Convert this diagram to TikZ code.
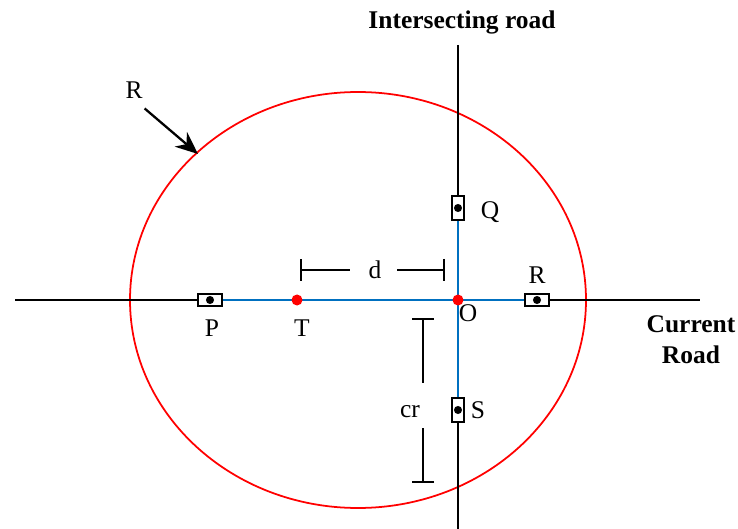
\documentclass[tikz,border=0pt]{standalone}
\usepackage{fontspec}
\setmainfont{Liberation Serif}
\usepackage{xcolor}
\usetikzlibrary{arrows.meta,positioning}
\definecolor{ROAD}{HTML}{000000}
\definecolor{LINK}{HTML}{0070C0}
\definecolor{RANGE}{HTML}{FF0000}

\begin{document}
\begin{tikzpicture}[
    x=0.2mm, y=-0.2mm,
    font=\fontsize{14.5}{17}\selectfont,
    road/.style={draw=ROAD, line width=1.1pt},
    link/.style={draw=LINK, line width=1.1pt},
    rsuh/.style={draw=black, fill=white, line width=0.9pt, minimum width=4.9mm, minimum height=2.5mm, inner sep=0pt,
      path picture={\fill[black] (path picture bounding box.center) circle (2.3pt);}},
    rsuv/.style={rsuh, minimum width=2.5mm, minimum height=4.9mm},
    veh/.style={circle, fill=RANGE, minimum size=2.2mm, inner sep=0pt},
    lbl/.style={inner sep=1pt},
    head/.style={font=\fontsize{14.5}{17.5}\selectfont\bfseries, align=center},
    dim/.style={black, line width=1.1pt},
  ]
  \useasboundingbox (0,0) rectangle (738,529);

  % ===== communication range =====
  \draw[RANGE, line width=1pt] (358,300) ellipse [x radius=228, y radius=208];

  % ===== roads =====
  \coordinate (cw) at (15,300);
  \coordinate (ce) at (700,300);
  \coordinate (in) at (458,45);
  \coordinate (is) at (458,529);
  \draw[road] (cw) -- (ce);
  \draw[road] (in) -- (is);

  % units and vehicles
  \node[rsuh] (P) at (210,300) {};
  \node[rsuh] (R) at (537,300) {};
  \node[rsuv] (Q) at (458,208) {};
  \node[rsuv] (S) at (458,410) {};
  \draw[link] (P) -- (R);
  \draw[link] (Q) -- (S);
  \node[veh] (T) at (297,300) {};
  \node[veh] (O) at (458,300) {};

  \node[lbl] (Plbl) at (212,328) {P};
  \node[lbl] (Tlbl) at (302,328) {T};
  \node[lbl] (Olbl) at (468,313) {O};
  \node[lbl] (Rlbl) at (537,275) {R};
  \node[lbl] (Qlbl) at (490,212) {Q};
  \node[lbl] (Slbl) at (478,410) {S};

  % ===== dimensions =====
  \node[lbl] (d) at (375,270) {d};
  \coordinate (d1) at (300,270);
  \coordinate (d2) at (445,270);
  \draw[dim, {Bar[width=4.4mm]}-] (d1) -- (350,270);
  \draw[dim, -{Bar[width=4.4mm]}] (397,270) -- (d2);

  \node[lbl] (cr) at (410,412) {cr};
  \coordinate (cr1) at (423,318);
  \coordinate (cr2) at (423,483);
  \draw[dim, {Bar[width=4.4mm]}-] (cr1) -- (423,383);
  \draw[dim, -{Bar[width=4.4mm]}] (423,428) -- (cr2);

  % range label
  \node[lbl] (Rr) at (134,90) {R};
  \coordinate (Rtip) at (198,154);
  \draw[black, line width=1.3pt, -{Stealth[length=4.5mm, width=3.8mm]}] (Rr.south east) ++(0,8) -- (Rtip);

  % ===== road names =====
  \node[head] (inname) at (462,22) {Intersecting road};
  \node[head] (curname) at (691,340) {Current\\Road};

\end{tikzpicture}
\end{document}
